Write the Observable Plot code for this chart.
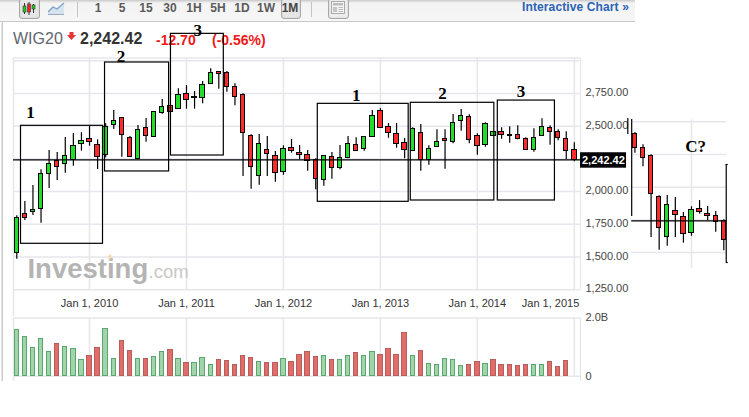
<!DOCTYPE html>
<html>
<head>
<meta charset="utf-8">
<script src="https://cdn.jsdelivr.net/npm/d3@7"></script>
<script src="https://cdn.jsdelivr.net/npm/@observablehq/plot@0.6"></script>
<style>
html,body{margin:0;padding:0;background:#fff;}
#page{position:relative;width:749px;height:417px;overflow:hidden;font-family:"Liberation Sans",Arial,sans-serif;}
#bar{position:absolute;left:0;top:0;width:635px;height:21px;background:linear-gradient(#c9c9c9 0,#f3f3f3 3px,#f6f6f6 100%);border-bottom:1px solid #c8c8c8;}
.t{position:absolute;white-space:nowrap;}
.p{top:1px;height:15px;line-height:15px;font-size:12px;font-weight:bold;color:#5a5a5a;text-align:center;width:24px;}
.btn{position:absolute;top:-2px;height:19px;background:#e6e6e6;border:1px solid #a8a8a8;border-radius:3px;box-shadow:inset 0 0 2px #ccc;}
.sep{position:absolute;top:2px;width:1px;height:15px;background:#c4c4c4;}
#main,#vol{position:absolute;left:0;}
#main{top:0;}#vol{top:316px;}
svg{display:block;}
</style>
</head>
<body>
<div id="page">
  <div id="bar">
    <div class="btn" style="left:19px;width:19px;"></div>
    <svg style="position:absolute;left:22px;top:2px" width="14" height="13">
      <path d="M2.5 1V12M7 0V13M11.5 2V11" stroke="#333"/>
      <rect x="1" y="4" width="3" height="6" fill="#2c2" stroke="#333" stroke-width=".6"/>
      <rect x="5.5" y="2" width="3" height="8" fill="#f22" stroke="#333" stroke-width=".6"/>
      <rect x="10" y="3" width="3" height="4" fill="#2c2" stroke="#333" stroke-width=".6"/>
    </svg>
    <svg style="position:absolute;left:48px;top:2px" width="17" height="13">
      <path d="M0 10L5 5L9 7L16 1V12H0Z" fill="#d5e2f0"/><path d="M0 10L5 5L9 7L16 1" fill="none" stroke="#7ea1c7" stroke-width="1.3"/><path d="M0 12.5H16" stroke="#9ab"/>
    </svg>
    <div class="sep" style="left:77px"></div>
    <span class="t p" style="left:86px">1</span>
    <span class="t p" style="left:110px">5</span>
    <span class="t p" style="left:134px">15</span>
    <span class="t p" style="left:158px">30</span>
    <span class="t p" style="left:182px">1H</span>
    <span class="t p" style="left:206px">5H</span>
    <span class="t p" style="left:230px">1D</span>
    <span class="t p" style="left:254px">1W</span>
    <div class="btn" style="left:281px;width:18px;"></div>
    <span class="t p" style="left:278px;color:#444">1M</span>
    <div class="sep" style="left:311px"></div>
    <div class="btn" style="left:328px;width:19px;background:#eee;"></div>
    <svg style="position:absolute;left:331px;top:1px" width="14" height="13">
      <rect x=".5" y=".5" width="13" height="12" fill="#f4f4f4" stroke="#aaa"/>
      <rect x="2" y="2" width="10" height="2.5" fill="#bbb"/><rect x="2" y="6" width="4" height="5" fill="#c4c4c4"/>
      <path d="M7.5 6.5H12M7.5 8.5H12M7.5 10.5H12" stroke="#bbb"/>
    </svg>
    <span class="t" style="left:522px;top:0;line-height:14px;font-size:12px;font-weight:bold;letter-spacing:.12px;color:#2a62b4;">Interactive Chart »</span>
  </div>
  <span class="t" style="left:13px;top:30px;font-size:16px;line-height:18px;color:#5f6670;">WIG20</span>
  <svg style="position:absolute;left:67px;top:32px" width="9" height="8"><path d="M2.5 0H6.5V3H9L4.5 8L0 3H2.5Z" fill="#e8333a"/></svg>
  <span class="t" style="left:80px;top:30px;font-size:16px;line-height:18px;font-weight:bold;color:#333;">2,242.42</span>
  <span class="t" style="left:156px;top:32px;font-size:14px;line-height:16px;font-weight:bold;color:#f01818;">-12.70</span>
  <span class="t" style="left:212px;top:32px;font-size:14px;line-height:16px;font-weight:bold;color:#f01818;">(-0.56%)</span>
  <div id="main"></div>
  <div id="vol"></div>
</div>
<script>
// Monthly WIG20 candles, Apr 2009 .. Jan 2015 (index 0 = Apr 2009)
const opens = [1529,1830,1843,1869,2136,2235,2213,2243,2365,2404,2358,2281,2511,2564,2411,2251,2488,2419,2599,2656,
  2633,2748,2719,2717,2824,2916,2908,2801,2740,2427,2121,2320,2274,2151,2335,2297,2281,2243,2090,2266,
  2182,2258,2358,2327,2419,2618,2495,2442,2373,2312,2450,2243,2343,2404,2381,2541,2572,2427,2358,2427,
  2457,2427,2434,2404,2320,2427,2488,2457,2404,2320];
const closes = [1800,1797,1861,2136,2213,2190,2274,2350,2388,2381,2266,2492,2541,2434,2263,2472,2427,2610,2648,2610,
  2740,2702,2723,2817,2908,2901,2801,2725,2450,2190,2365,2286,2144,2327,2312,2281,2235,2098,2274,2182,
  2258,2365,2312,2419,2580,2488,2450,2365,2320,2480,2243,2327,2381,2388,2526,2580,2396,2350,2518,2457,
  2434,2434,2404,2320,2411,2495,2457,2411,2312,2242.42];
const highs = [1815,1924,2047,2167,2314,2299,2414,2444,2450,2500,2396,2518,2620,2567,2421,2505,2559,2612,2704,2658,
  2786,2811,2765,2842,2939,2918,2918,2824,2748,2434,2437,2421,2307,2350,2398,2352,2314,2251,2276,2299,
  2352,2421,2411,2421,2620,2635,2521,2521,2406,2488,2513,2350,2472,2472,2589,2628,2587,2442,2526,2459,
  2488,2495,2503,2411,2480,2557,2503,2472,2457,2373];
const lows = [1483,1779,1817,1758,2024,2085,2141,2194,2309,2347,2169,2258,2475,2263,2261,2248,2378,2417,2592,2609,
  2631,2630,2630,2671,2823,2783,2760,2656,2115,2018,2049,2115,2072,2125,2294,2243,2156,2014,2041,2095,
  2167,2251,2307,2309,2417,2486,2408,2332,2251,2310,2156,2202,2341,2171,2365,2462,2365,2278,2339,2425,
  2401,2370,2396,2318,2301,2425,2355,2388,2245,2228];

// Volume in billions, and whether each bar is drawn up (green)
const volumes = [1.59,1.35,.97,1.28,.83,1.11,1.01,.94,.56,.70,.97,1.62,.59,1.21,.87,.59,.59,.66,.83,.90,
  .59,.46,.46,.63,.39,.56,.53,.39,.70,.63,.49,.46,.46,.59,.49,.73,.83,.66,.70,.56,
  .56,.70,.80,.70,.83,.73,.94,.73,1.49,.70,.87,.42,.39,.59,.56,.35,.39,.49,.42,.56,
  .39,.39,.35,.39,.39,.39,.49,.32,.53];
const volumeUp = [1,1,1,1,1,0,1,1,1,0,0,1,1,0,0,1,0,1,1,0,
  1,0,1,1,1,0,0,0,0,0,1,0,0,1,0,0,0,0,1,0,
  1,1,0,1,1,0,0,0,0,1,0,1,1,1,1,1,0,0,1,0,
  0,0,0,0,1,1,0,0,0];

const janIndex = [9,21,33,45,57];
const janLabels = ["Jan 1, 2010","Jan 1, 2011","Jan 1, 2012","Jan 1, 2013","Jan 1, 2014"];
const lastJanIndex = 69, lastJanLabel = "Jan 1, 2015";
const priceTicks = [2750,2500,2000,1750,1500,1250];
const gridPrices = [3000,2750,2500,2250,2000,1750,1500,1250];
const lastPrice = 2242.42;

// Hand-drawn annotation boxes (month index / price)
const boxX1 = [0.52,10.92,19.08,37.25,48.76,59.53];
const boxX2 = [10.67,18.85,25.62,48.5,59.1,66.6];
const boxTop = [2503,2987,3206,2671,2679,2696];
const boxBottom = [1601,2154,2276,1922,1932,1932];
const noteText = ["1","2","3","1","2","3","C?"];
const noteX = [1.7,12.9,22.4,42,52.7,62.4,84];
const notePrice = [2605,3030,3235,2735,2746,2765,2345];

// Pasted copy of the 2011-12 candles on the right
const pasteShift = 50.5, pastePriceShift = 466.4, pasteFrom = 26, pasteTo = 37, pasteEdge = 87.9;

const candles = opens.map((o,i)=>({i,o,c:closes[i],h:highs[i],l:lows[i],up:closes[i]>=o}));
const vols = volumes.map((v,i)=>({i,v,up:!!volumeUp[i]}));
const boxes = boxX1.map((x,i)=>({x1:x,x2:boxX2[i],y1:boxTop[i],y2:boxBottom[i]}));
const notes = noteText.map((t,i)=>({t,x:noteX[i],y:notePrice[i]}));
const pasted = candles.filter(d=>d.i>=pasteFrom&&d.i<=pasteTo).map(d=>({...d,i:d.i+pasteShift,
  o:d.o-pastePriceShift,c:d.c-pastePriceShift,h:d.h-pastePriceShift,l:d.l-pastePriceShift}));

const GRID="#e6e6ec", W=0.27, xDom=[-2.017,90.68], L=-0.41, R=69.77, PL=76.1;
const font={fontFamily:"Liberation Sans, Arial, sans-serif",fontSize:"11px",background:"transparent",overflow:"visible"};
const candleMarks = (data,edge)=>[
  Plot.ruleX(data,{x:"i",y1:"l",y2:"h",stroke:"#000",strokeWidth:1.2}),
  Plot.rect(data,{x1:d=>d.i-W,x2:d=>Math.min(d.i+W,edge),y1:"o",y2:"c",
    fill:d=>d.up?"#22dd2a":"#ff2b2b",stroke:"#000",strokeWidth:1,shapeRendering:"crispEdges"})
];

const main = Plot.plot({
  width:749,height:316,marginTop:0,marginLeft:0,marginBottom:26,marginRight:168,
  style:font,
  x:{domain:xDom,range:[0,749]},
  y:{domain:[1045.2,3461],range:[316,0]},
  marks:[
    // page edge and grid
    Plot.ruleX([-1.8],{y1:1045.2,y2:3300,stroke:"#ccc",strokeWidth:1.5}),
    Plot.ruleX([...janIndex,lastJanIndex],{y1:1250,y2:3021,stroke:GRID,strokeWidth:1.5}),
    Plot.ruleX([L],{y1:1045.2,y2:3021,stroke:GRID,strokeWidth:1.5}),
    Plot.ruleX([R],{y1:1250,y2:3021,stroke:GRID,strokeWidth:1}),
    Plot.ruleY([...gridPrices,3021],{x1:L,x2:R,stroke:GRID,strokeWidth:1.5}),
    Plot.ruleY(gridPrices.slice(0,5),{x1:PL,x2:pasteEdge,y:d=>d-pastePriceShift,stroke:GRID,strokeWidth:1.5}),
    Plot.ruleX([33+pasteShift],{y1:1412,y2:2551,stroke:GRID,strokeWidth:1.5}),
    // watermark
    Plot.text(["Investing"],{x:1.32,y:1343,fill:"#b4b4b4",fontSize:27.5,fontWeight:"bold",textAnchor:"start",lineAnchor:"bottom"}),
    Plot.text([".com"],{x:16.3,y:1343,fill:"#c8c8c8",fontSize:18.5,textAnchor:"start",lineAnchor:"bottom"}),
    Plot.rect([0],{x1:11.45,x2:11.75,y1:1480,y2:1515,fill:"#f3d9a0"}),
    // axes
    Plot.axisY({anchor:"right",ticks:priceTicks,tickSize:0,tickPadding:4,dy:-1,label:null,color:"#444",tickFormat:d3.format(",.2f")}),
    Plot.axisX({ticks:janIndex,tickSize:0,tickPadding:9,label:null,color:"#333",tickFormat:i=>janLabels[janIndex.indexOf(i)]}),
    Plot.axisX({ticks:[lastJanIndex],tickSize:0,tickPadding:9,label:null,color:"#333",textAnchor:"end",dx:5,tickFormat:()=>lastJanLabel}),
    // candles
    ...candleMarks(candles,1e3),
    ...candleMarks(pasted,pasteEdge),
    // last price line
    Plot.ruleY([lastPrice],{x1:L,x2:R,stroke:"#000",strokeWidth:1.2}),
    Plot.ruleY([lastPrice-pastePriceShift],{x1:PL,x2:pasteEdge,stroke:"#000",strokeWidth:1.2}),
    Plot.rect([0],{x1:69.77,x2:75.46,y1:2179,y2:2297,fill:"#000"}),
    Plot.text([lastPrice],{x:72.6,y:2238,text:d3.format(",.2f"),fill:"#fff",fontWeight:"bold",fontSize:11}),
    // annotations
    Plot.rect(boxes,{x1:"x1",x2:"x2",y1:"y1",y2:"y2",fill:"none",stroke:"#000",strokeWidth:1.2}),
    Plot.ruleX([PL],{y1:1810,y2:2551,stroke:"#000",strokeWidth:1.2}),
    Plot.ruleX([75.62],{y1:2437,y2:2559,stroke:"#000",strokeWidth:1.2}),
    Plot.ruleX([87.8],{y1:1458,y2:2207,stroke:"#000",strokeWidth:1.2}),
    Plot.ruleY([2207,1458],{x1:87.8,x2:88.05,stroke:"#000",strokeWidth:1.2}),
    Plot.text(notes,{x:"x",y:"y",text:"t",fontFamily:"Liberation Serif, Times New Roman, serif",fontWeight:"bold",fontSize:17,fill:"#000"})
  ]
});
document.getElementById("main").append(main);

const vol = Plot.plot({
  width:749,height:101,marginTop:0,marginLeft:0,marginBottom:0,marginRight:168,
  style:font,
  x:{domain:xDom,range:[0,749],axis:null},
  y:{domain:[-1.416,2.05],range:[101,0]},
  marks:[
    Plot.ruleX([...janIndex,lastJanIndex],{y1:0,y2:2,stroke:GRID,strokeWidth:1.5}),
    Plot.ruleX([L],{y1:-0.18,y2:2,stroke:GRID,strokeWidth:1.5}),
    Plot.ruleX([R],{y1:-0.18,y2:2,stroke:"#dbe4ee",strokeWidth:1}),
    Plot.ruleY([2,0],{x1:L,x2:R,stroke:GRID,strokeWidth:1.5}),
    Plot.ruleX([-1.8],{y1:-0.18,y2:2.05,stroke:"#ccc",strokeWidth:1.5}),
    Plot.rect(vols,{x1:d=>d.i-W,x2:d=>d.i+W,y1:0,y2:"v",
      fill:d=>d.up?"#a2d3aa":"#e26c68",stroke:d=>d.up?"#59a96e":"#b45f5e",strokeWidth:1,shapeRendering:"crispEdges"}),
    Plot.axisY({anchor:"right",ticks:[0,2],tickSize:0,tickPadding:4,label:null,color:"#444",tickFormat:d=>d?d.toFixed(1)+"B":"0"})
  ]
});
document.getElementById("vol").append(vol);
</script>
</body>
</html>
